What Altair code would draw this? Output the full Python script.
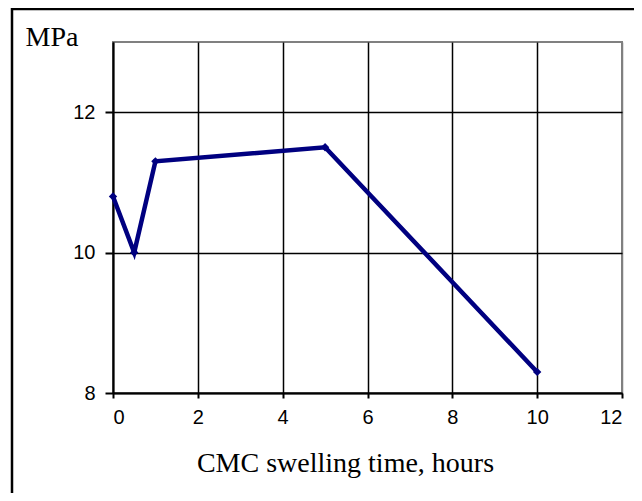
import altair as alt
import pandas as pd

hours = [0, 0.5, 1, 5, 10]
mpa = [10.8, 10.0, 11.3, 11.5, 8.3]
x_ticks = [0, 2, 4, 6, 8, 10, 12]
y_ticks = [8, 10, 12]

df = pd.DataFrame({"hours": hours, "mpa": mpa})

line = alt.Chart(df).mark_line(
    color="#000080", strokeWidth=4.5,
    point=alt.OverlayMarkDef(shape="diamond", size=70, color="#000080", filled=True)
).encode(
    x=alt.X("hours:Q", scale=alt.Scale(domain=[0, 12], nice=False),
            axis=alt.Axis(values=x_ticks, title="CMC swelling time, hours",
                          titleX=232, titleY=78, titleAlign="center",
                          titleBaseline="alphabetic",
                          tickSize=5, labelPadding=9,
                          gridColor={"condition": {"test": "datum.value == 12", "value": "#808080"}, "value": "black"})),
    y=alt.Y("mpa:Q", scale=alt.Scale(domain=[8, 13], nice=False, zero=False),
            axis=alt.Axis(values=y_ticks, title="MPa", titleAngle=0,
                          titleX=-88, titleY=3, titleAlign="left",
                          titleBaseline="alphabetic", gridColor="black",
                          tickSize=8, labelPadding=10)),
)

border = alt.Chart(pd.DataFrame({"a": [0]})).mark_rect(
    filled=False, stroke="black", strokeWidth=2.5
).encode(
    x=alt.value(-101), x2=alt.value(700),
    y=alt.value(-33), y2=alt.value(600),
)

chart = alt.layer(border, line).properties(
    width=509, height=351,
    padding={"left": 105, "top": 34, "right": 12, "bottom": 100},
    autosize=alt.AutoSizeParams(type="none"),
    background="white",
).configure_view(
    stroke="#808080", strokeWidth=2,
).configure_axis(
    domainColor="black", domainWidth=2,
    tickColor="black", tickWidth=2,
    grid=True, gridWidth=1.5,
    labelFont="Liberation Sans", labelFontSize=20, labelColor="black",
    titleFont="Liberation Serif", titleFontSize=28, titleFontWeight="normal",
    titleColor="black",
)

chart.save("out.html", embed_options={"renderer": "svg", "actions": False})
